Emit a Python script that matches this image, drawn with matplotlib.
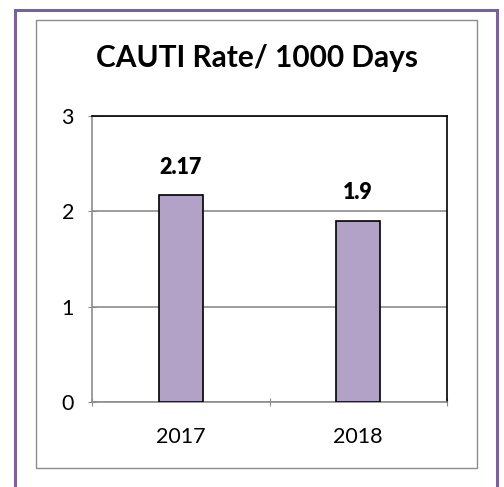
import matplotlib.pyplot as plt
from matplotlib.patches import Rectangle

years = ["2017", "2018"]
rates = [2.17, 1.9]
yticks = [0, 1, 2, 3]

W, H = 504, 487
fig = plt.figure(figsize=(W / 100, H / 100), dpi=100)
plt.rcParams['font.family'] = ['Lato', 'DejaVu Sans']

# outer purple frame and inner grey chart frame (pixel coords -> figure fraction)
def box(x0, y0, x1, y1, color, lw):
    fig.patches.append(Rectangle((x0 / W, 1 - y1 / H), (x1 - x0) / W, (y1 - y0) / H,
                                 transform=fig.transFigure, fill=False,
                                 edgecolor=color, linewidth=lw))

box(15, 10, 497, 500, '#7B5FA0', 2.2)
box(36, 20, 477, 468, '#8c8c8c', 1.0)

# plot area: x 92..447, y 116..402
ax = fig.add_axes([92 / W, 1 - 402 / H, (447 - 92) / W, (402 - 116) / H])
x = range(len(years))
ax.bar(x, rates, width=0.25, color='#B3A2C7', edgecolor='black', linewidth=1.2, zorder=3)
for xi, v in zip(x, rates):
    ax.annotate(f"{v:g}", (xi, v), xytext=(0, 28), textcoords='offset pixels',
                ha='center', va='center', fontsize=15.5, fontweight='heavy', color='black')

ax.set_xlim(-0.5, 1.5)
ax.set_ylim(0, 3)
ax.set_yticks(yticks)
ax.set_xticks([-0.5, 0.5, 1.5], minor=False)
ax.set_xticklabels([])
ax.set_xticks(list(x), minor=True)
ax.set_xticklabels(years, minor=True)
ax.tick_params(axis='x', which='minor', length=0, labelsize=15.5, pad=18)
ax.tick_params(axis='x', which='major', length=6, color='#8c8c8c', direction='inout')
ax.tick_params(axis='y', length=6, color='#8c8c8c', direction='inout', labelsize=15.5, pad=10)
ax.grid(axis='y', color='#8c8c8c', linewidth=1.2, zorder=0)

ax.spines['left'].set_color('#8c8c8c')
ax.spines['bottom'].set_color('#8c8c8c')
ax.spines['left'].set_linewidth(1.2)
ax.spines['bottom'].set_linewidth(1.2)
ax.spines['top'].set_color('black')
ax.spines['right'].set_color('black')
ax.spines['top'].set_linewidth(1.2)
ax.spines['right'].set_linewidth(1.2)

fig.text(257 / W, 1 - 58 / H, "CAUTI Rate/ 1000 Days", ha='center', va='center',
         fontsize=21.5, fontweight='bold')

fig.savefig("out.png", dpi=100)
